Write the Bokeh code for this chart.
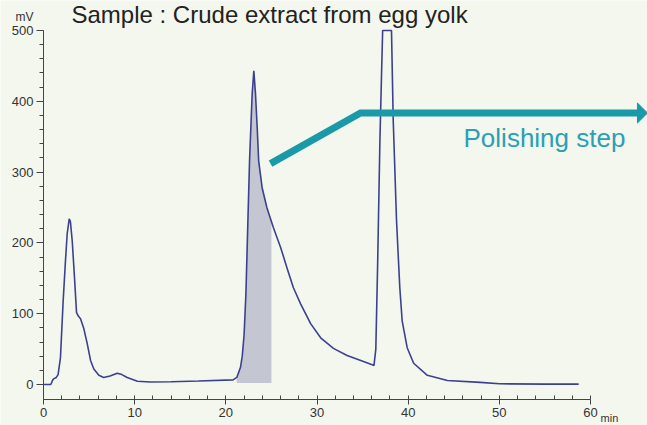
import numpy as np
from bokeh.plotting import figure
from bokeh.models import Label, Range1d, FixedTicker
from bokeh.embed import file_html
from bokeh.resources import INLINE

# ---- data ----
time_min = [0, 0.8, 1.0, 1.1, 1.4, 1.6, 1.86, 2.16, 2.41, 2.6, 2.82, 2.95, 3.15, 3.4,
            3.62, 3.8, 4.06, 4.42, 4.79, 5.16, 5.52, 6.07, 6.6, 7.3, 8.08, 8.6, 9.18,
            10.3, 11.7, 14, 17, 20.8, 21.2, 21.6, 21.8, 22.0, 22.2, 22.4, 22.6, 22.89,
            23.07, 23.25, 23.44, 23.6, 23.98, 24.5, 25.2, 26.0, 26.7, 27.4, 28.2,
            29.3, 30.4, 31.8, 33.3, 34.8, 36.05, 36.25, 36.45, 36.65, 36.9, 37.1,
            37.2, 38.17, 38.36, 38.72, 39.08, 39.34, 39.89, 40.6, 42.1, 44.3, 47.9,
            50, 55, 58.7]
signal_mv = [0, 0, 6, 8, 10, 14, 38, 119, 175, 213, 234, 230, 203, 151,
             102, 97, 93, 79, 58, 34, 22, 13, 10, 12, 16, 14, 10,
             4.5, 3.5, 4, 5, 6.6, 10, 24, 40, 70, 128, 222, 316, 411,
             443, 411, 363, 316, 278, 250, 222, 194, 165, 137, 114,
             86, 66, 51, 41, 34, 28, 27, 50, 170, 345, 450,
             500, 500, 373, 232, 137, 90, 52, 30, 13, 5.6, 3,
             1, 0.5, 0.5]
x_ticks = [0, 10, 20, 30, 40, 50, 60]
x_minor = list(range(0, 61, 2))
y_ticks = [0, 100, 200, 300, 400, 500]
y_minor = list(range(0, 501, 20))
shade_start, shade_end = 21.2, 25.0

title_text = "Sample : Crude extract from egg yolk"
step_text = "Polishing step"

# annotation arrow (data coords)
arrow_x = [24.9, 34.77, 65.3]
arrow_y = [312, 383.5, 383.5]
head_x = [65.15, 66.25, 65.15]
head_y = [397.6, 383.5, 369.4]

BG = "#f3f7ee"
LINE = "#3c418f"
TEAL = "#1a9aa9"
TEXT_TEAL = "#2aa0b4"
FONT = "Liberation Sans"

X_AXIS_AT = -21.2   # mV level where the time axis is drawn
Y_AXIS_AT = 0       # minute where the mV axis is drawn

p = figure(width=647, height=425, output_backend="svg", toolbar_location=None,
           x_range=Range1d(-4.717, 66.25), y_range=Range1d(-57.9, 542.4),
           min_border_left=0, min_border_right=0, min_border_top=0,
           min_border_bottom=0, background_fill_color=BG, border_fill_color=BG,
           outline_line_color=None)
p.grid.visible = False

# shaded fraction
t_sh = [shade_start] + [t for t in time_min if shade_start < t < shade_end] + [shade_end]
v_sh = list(np.interp(t_sh, time_min, signal_mv))
p.varea(x=t_sh, y1=2, y2=v_sh, fill_color="#c4c6d1")

p.line(time_min, signal_mv, line_color=LINE, line_width=1.6)

p.line(arrow_x, arrow_y, line_color=TEAL, line_width=7, line_join="miter", line_cap="butt")
p.patch(head_x, head_y, fill_color=TEAL, line_color=TEAL)

# axes
xa = p.xaxis[0]
xa.fixed_location = X_AXIS_AT
xa.bounds = (0, 60)
xa.ticker = FixedTicker(ticks=x_ticks, minor_ticks=x_minor)
xa.major_tick_in = 0
xa.major_tick_out = 5
xa.minor_tick_in = 4
xa.minor_tick_out = 0
xa.major_label_standoff = 3
ya = p.yaxis[0]
ya.fixed_location = Y_AXIS_AT
ya.bounds = (X_AXIS_AT, 500)
ya.ticker = FixedTicker(ticks=y_ticks, minor_ticks=y_minor)
ya.major_tick_in = 0
ya.major_tick_out = 7
ya.minor_tick_in = 0
ya.minor_tick_out = 4
ya.major_label_standoff = 3
for ax in (xa, ya):
    ax.axis_line_color = "#444444"
    ax.major_tick_line_color = "#444444"
    ax.minor_tick_line_color = "#444444"
    ax.major_label_text_color = "#333333"
    ax.major_label_text_font = FONT
    ax.major_label_text_font_size = "13px"

p.add_layout(Label(x=3.07, y=541.5, text=title_text, text_font=FONT,
                   text_font_size="24px", text_color="#222222",
                   text_baseline="top"))
p.add_layout(Label(x=46.07, y=347.5, text=step_text, text_font=FONT,
                   text_font_size="26px", text_color=TEXT_TEAL,
                   text_baseline="alphabetic"))
p.add_layout(Label(x=-2.08, y=519.8, text="mV", text_font=FONT,
                   text_font_size="12px", text_color="#333333",
                   text_align="center", text_baseline="middle"))
p.add_layout(Label(x=61.1, y=-48, text="min", text_font=FONT,
                   text_font_size="11px", text_color="#333333",
                   text_baseline="alphabetic"))

open("out.html", "w").write(file_html(p, INLINE))
